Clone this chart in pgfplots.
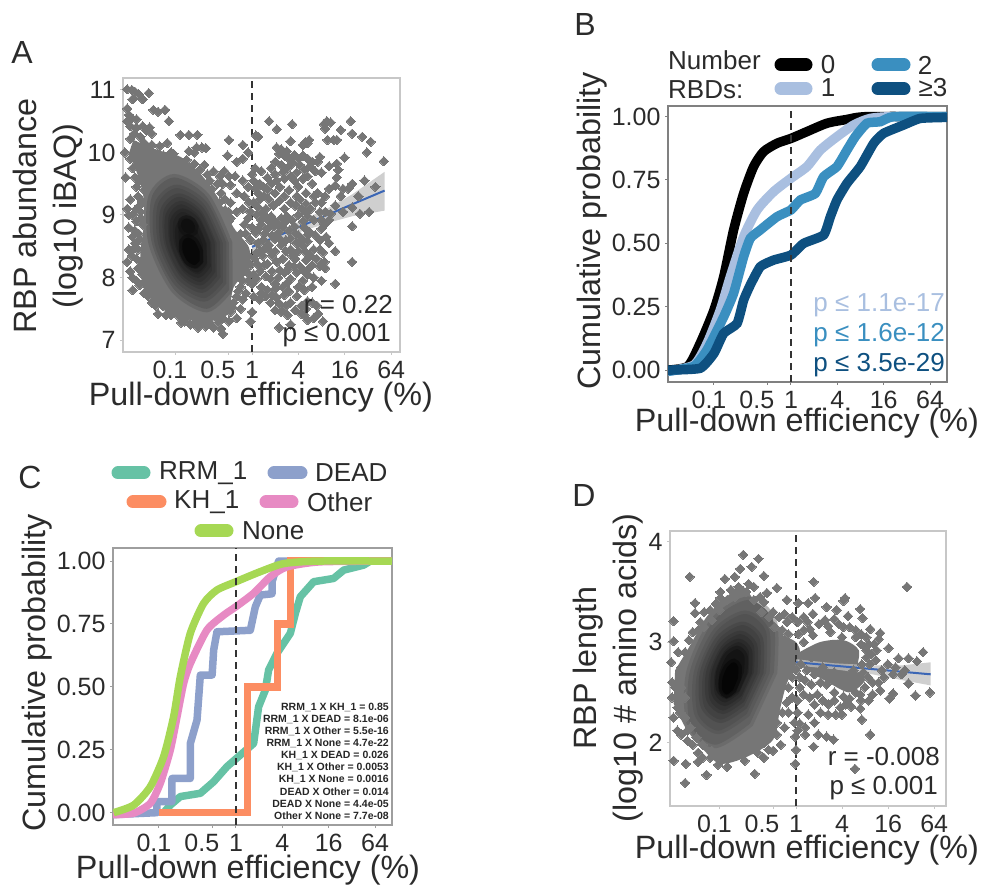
\documentclass[border=0pt]{standalone}
\usepackage{pgfplots}
\pgfplotsset{compat=1.18}
\usepackage{fontspec}
\setmainfont{Liberation Sans}
\newcommand\fs[1]{\fontsize{#1}{#1}\selectfont}
\definecolor{txt}{HTML}{2B2B2B}
\definecolor{ptg}{HTML}{767676}
\definecolor{bl}{HTML}{3B66B5}
\definecolor{bA}{HTML}{A9BFE0}
\definecolor{bB}{HTML}{3A8FC0}
\definecolor{bC}{HTML}{0E5080}
\definecolor{cR}{HTML}{66C2A5}
\definecolor{cD}{HTML}{8DA0CB}
\definecolor{cK}{HTML}{FC8D62}
\definecolor{cO}{HTML}{E78AC3}
\definecolor{cN}{HTML}{A6D854}
\pgfplotsset{
 panel/.style={scale only axis, anchor=south west, axis line style={draw=#1,line width=1.6pt},
  tick style={draw=#1,line width=1pt}, major tick length=3pt, tick align=outside,
  axis on top=false, xtick pos=bottom, ytick pos=left,
  tick label style={font=\fs{25},text=txt},
  label style={font=\fontsize{32.3}{40}\selectfont,text=txt},
  xtick={-1,-0.301,0,0.602,1.204,1.806}, xticklabels={\kern-10pt 0.1,\kern-22pt 0.5,1,4,16,64},
  xticklabel style={yshift=-3pt},yticklabel style={xshift=-1pt}},
 pts/.style={only marks,mark=square*,mark size=3.3pt,mark options={rotate=45,fill=ptg,draw=ptg,line width=0pt}},
 blob/.style={fill=#1,draw=#1,draw opacity=.5,line width=7pt,smooth,forget plot},
 mass/.style={fill=ptg,draw=none,smooth,forget plot},
 vdash/.style={black!80,line width=1.6pt,dash pattern=on 7pt off 5pt}
}
\begin{document}
\begin{tikzpicture}[x=1pt,y=1pt]
\path[use as bounding box] (0,0) rectangle (982,886);
% ---------- A
\begin{axis}[panel=black!22, at={(123pt,534pt)}, width=277pt, height=274pt,
 xmin=-1.675,xmax=1.92,ymin=6.81,ymax=11.19,
 ytick={7,8,9,10,11},yticklabels={7,8,9,10,11},
 xlabel={Pull-down efficiency (\%)},
 xlabel style={at={(axis description cs:.498,-.164)},anchor=center},
 ylabel={RBP abundance\\(log10 iBAQ)},
 ylabel style={align=center,at={(axis description cs:-.271,.496)},anchor=center}]
\addplot[mass] coordinates {(-1.54,10.2)(-1.23,10.04)(-.93,9.93)(-.67,9.66)(-.45,9.29)(-.24,8.8)(-.04,8.48)(-.04,8.16)(-.24,7.84)(-.32,7.41)(-.58,7.3)(-.93,7.36)(-1.19,7.52)(-1.41,7.84)(-1.45,8.37)(-1.41,8.8)(-1.41,9.29)(-1.49,9.66)(-1.6,9.98)} --cycle;
\addplot[pts] coordinates {
(-1.62,11.01)(-1.56,11.0)(-1.52,10.97)(-1.47,10.93)(-1.34,10.95)(-1.42,10.85)(-1.55,10.85)(-1.28,10.68)(-1.22,10.65)(-1.13,10.68)(-1.08,10.5)(-1.62,10.7)(-1.6,10.6)(-1.56,10.55)(-1.5,10.53)(-1.62,10.5)(-1.58,10.42)(-1.5,10.4)(-1.42,10.42)(-1.33,10.4)(-1.37,10.35)(-1.3,10.3)(-1.45,10.25)(-1.53,10.3)(-1.58,10.22)(-1.4,10.15)(-.93,10.28)(-.82,10.28)(-.71,10.28)(-.82,10.02)(-.75,10.0)(-.65,10.08)(-.6,10.07)(-.72,10.08)(-1.05,10.0)(-1.2,10.1)(-1.1,10.15)(-1.3,10.12)
(-.62,9.8)(-.5,9.7)(-.42,9.62)(-.55,9.55)(-.45,9.5)
(-1.65,10.0)(-1.64,9.6)(-1.58,9.25)(-1.62,9.1)(-1.6,9.0)(-1.5,9.1)(-1.55,9.0)(-1.45,9.05)(-1.4,9.4)(-1.48,9.3)(-1.43,9.22)(-1.6,8.8)(-1.52,8.75)(-1.6,8.45)(-1.53,8.47)(-1.62,8.25)(-1.58,8.1)(-1.55,8.0)(-1.46,8.6)(-1.5,8.3)(-1.48,8.15)(-1.42,8.05)(-1.5,7.95)(-1.55,7.8)(-1.4,7.75)(-1.35,7.7)(-1.3,7.6)(-1.25,7.55)(-1.22,7.42)(-1.12,7.4)(-1.05,7.4)(-.92,7.28)(-.88,7.3)(-.8,7.25)(-.7,7.2)(-.6,7.22)(-.5,7.2)(-.4,7.18)(-.38,7.1)(-.44,7.28)(-.3,7.3)(-.28,7.45)(-.2,7.35)(-.15,7.5)(-.24,7.6)(-.12,7.65)(-.08,7.75)(-.15,7.85)(-.05,7.95)(-.08,8.1)(-.02,8.2)
(-.3,10.2)(-.12,10.12)(-.05,10.0)(-.32,9.95)(-.2,9.85)(-.12,9.9)(-.3,9.62)(-.36,9.7)(-.22,9.62)(-.12,9.55)(-.05,9.45)(-.28,9.48)(-.38,9.5)(-.1,9.3)(-.2,9.35)(-.04,9.2)(-.28,9.2)(-.12,9.1)(-.2,9.05)(-.05,8.95)(-.1,8.85)(-.28,8.95)(-.15,8.7)(-.3,9.05)(-.35,9.25)(-.02,9.05)(-.08,8.7)(-.02,8.6)
(.22,10.5)(.32,10.37)(.52,10.45)(.93,10.45)(.97,10.5)(1.02,10.48)(.95,10.38)(1.28,10.5)(1.15,10.36)(1.3,10.3)(1.43,10.25)(1.54,10.17)(1.49,10.0)(1.71,9.86)
(.05,10.27)(.08,10.25)(.5,10.18)(.66,10.12)(.72,10.15)(.74,10.2)(.69,10.16)(.98,10.2)(1.06,10.2)(1.1,10.2)(.32,10.08)(.38,10.05)(.45,10.02)
(.35,9.98)(.42,9.95)(.48,9.9)(.55,9.96)(.6,9.9)(.66,9.95)(.72,9.9)(.78,9.85)(.88,9.93)(.85,9.85)(.3,9.85)(.38,9.8)(.46,9.75)(.52,9.82)(.62,9.8)(.68,9.72)(.75,9.78)(1.0,9.78)(1.1,9.82)(1.2,9.92)(1.12,9.72)(.9,9.68)(.82,9.7)(.58,9.68)(.4,9.68)
(.02,9.55)(.05,9.42)(.1,9.5)(.15,9.45)(.2,9.4)(.25,9.5)(.3,9.35)(.36,9.45)(.42,9.58)(.48,9.4)(.55,9.55)(.6,9.45)(.66,9.58)(.7,9.35)(.78,9.5)(.85,9.35)(1.0,9.42)(1.08,9.47)(1.18,9.42)(1.25,9.42)(1.46,9.55)(1.6,9.45)(.95,9.3)(.15,9.3)(.22,9.25)(.1,9.25)
(.02,9.2)(.08,9.12)(.18,9.1)(.28,9.15)(.35,9.22)(.42,9.1)(.5,9.2)(.56,9.15)(.62,9.25)(.7,9.18)(.76,9.1)(.82,9.2)(.88,9.05)(.95,9.05)(1.02,9.02)(1.08,9.15)(1.18,9.05)(1.3,9.12)(1.4,9.02)(1.52,9.05)(.2,8.95)(.25,8.98)(.3,8.9)(.38,8.95)(.45,8.98)(.52,8.92)(.6,9.0)(.66,8.9)(.72,8.98)(.8,8.92)(.9,8.92)(1.0,8.92)
(.0,8.8)(.05,8.72)(.12,8.85)(.2,8.78)(.28,8.82)(.34,8.72)(.4,8.8)(.48,8.75)(.55,8.82)(.6,8.68)(.68,8.8)(.75,8.72)(.82,8.68)(.9,8.78)(.96,8.65)(1.0,8.55)(1.3,8.82)(.08,8.55)(.15,8.6)(.22,8.52)(.3,8.62)(.38,8.52)(.44,8.6)(.5,8.45)(.58,8.55)(.66,8.5)(.72,8.58)(.8,8.45)(1.08,8.42)(1.3,8.25)(.1,8.42)
(.03,8.3)(.14,8.35)(.2,8.22)(.26,8.35)(.32,8.25)(.4,8.3)(.48,8.2)(.56,8.3)(.62,8.18)(.7,8.28)(.78,8.2)(.84,8.3)(.1,8.1)(.18,8.02)(.26,8.1)(.34,8.0)(.42,8.08)(.5,7.98)(.58,8.08)(.66,7.95)(.72,8.05)(.8,8.0)(.9,7.95)(1.08,7.9)(.0,7.9)(.12,7.85)(.3,7.82)(.4,7.85)
(.02,7.7)(.1,7.65)(.18,7.7)(.24,7.6)(.32,7.68)(.42,7.72)(.5,7.6)(.58,7.7)(.64,7.55)(.7,7.5)(.78,7.6)(.84,7.55)(.3,7.48)(.38,7.45)(.46,7.4)(.5,7.25)(.35,7.2)(.0,7.45)(-.02,7.3)(.72,7.32)(.68,7.4)(.8,7.35)
(-1.5,10.1)(-1.42,10.05)(-1.34,10.0)(-1.25,9.98)(-1.15,9.95)(-1.02,9.98)(-.95,9.85)(-.85,9.88)(-.75,9.82)(-.68,9.72)(-.58,9.65)(-.52,9.42)(-.4,9.35)(-.42,9.2)(-.35,9.08)(-.3,8.9)(-.22,8.65)(-.18,8.5)(-.12,8.4)
(-1.58,9.9)(-1.55,9.75)(-1.48,9.85)(-1.52,9.6)(-1.46,9.55)(-1.42,9.7)(-1.5,9.45)(-1.44,9.6)(-1.38,9.85)
(-1.46,9.15)(-1.44,8.95)(-1.5,8.9)(-1.42,8.85)(-1.47,8.7)(-1.55,8.65)(-1.52,8.55)(-1.48,8.45)(-1.56,8.35)(-1.45,8.25)(-1.44,8.1)(-1.38,7.95)(-1.46,7.88)(-1.35,7.85)(-1.3,7.75)(-1.24,7.65)(-1.16,7.55)(-1.08,7.5)(-1.0,7.45)(-.95,7.38)(-.85,7.35)(-.75,7.28)(-.65,7.28)(-.55,7.28)(-.45,7.35)(-.38,7.35)(-.25,7.52)(-.2,7.7)(-.18,7.78)(-.12,7.95)(-.15,8.05)(-.03,8.05)(-.1,8.25)(-.05,8.35)
(.06,9.0)(.14,9.02)(.12,8.92)(.22,8.9)(.34,8.85)(.42,8.88)(.5,8.62)(.56,8.7)(.64,8.6)(.72,8.68)(.88,8.6)(.94,8.85)(.08,8.78)(.16,8.7)(.26,8.68)(.36,8.62)(.44,8.42)(.52,8.35)(.6,8.42)(.7,8.4)(.76,8.35)(.88,8.45)(.92,8.4)(.24,8.42)(.16,8.46)(.06,8.4)(.08,8.2)(.16,8.2)(.3,8.42)(.36,8.12)(.46,8.12)(.54,8.18)(.66,8.12)(.74,8.15)(.88,8.18)(.95,8.15)(.94,8.25)(.02,8.05)(.24,7.98)(.06,7.98)(.3,7.9)(.46,7.92)(.6,7.85)(.68,7.8)(.78,7.85)(.48,7.78)(.2,7.8)(.12,7.75)(.26,7.72)(.36,7.58)(.44,7.55)(.56,7.48)(.64,7.42)(.72,7.62)(.86,7.42)(.92,7.3)
(.08,9.35)(.3,9.65)(.25,9.75)(.2,9.6)(.04,9.75)(.0,9.65)(.12,9.7)(.32,9.55)(.5,9.62)(.72,9.62)(.8,9.3)(.58,9.3)(.42,9.3)(.7,9.05)(.64,9.1)(.9,9.2)(1.15,9.3)(1.3,9.5)(1.38,9.3)(1.1,9.6)
};
\addplot[blob=black!64] coordinates {(-.3,8.55)(-.592,9.295)(-1.01,9.6)(-1.3,9.295)(-1.3,8.55)(-1.008,7.805)(-.59,7.5)(-.298,7.805)} --cycle;
\addplot[blob=black!70] coordinates {(-.38,8.55)(-.625,9.175)(-.976,9.43)(-1.221,9.175)(-1.22,8.55)(-.975,7.925)(-.624,7.67)(-.379,7.925)} --cycle;
\addplot[blob=black!76] coordinates {(-.46,8.55)(-.663,9.075)(-.948,9.29)(-1.145,9.075)(-1.14,8.55)(-.937,8.025)(-.652,7.81)(-.455,8.025)} --cycle;
\addplot[blob=black!81] coordinates {(-.53,8.55)(-.695,8.99)(-.924,9.17)(-1.079,8.99)(-1.07,8.55)(-.905,8.11)(-.676,7.93)(-.521,8.11)} --cycle;
\addplot[blob=black!86] coordinates {(-.59,8.55)(-.721,8.905)(-.9,9.05)(-1.019,8.905)(-1.01,8.55)(-.879,8.195)(-.7,8.05)(-.581,8.195)} --cycle;
\addplot[blob=black!90] coordinates {(-.64,8.52)(-.736,8.79)(-.866,8.9)(-.95,8.79)(-.94,8.52)(-.844,8.25)(-.714,8.14)(-.63,8.25)} --cycle;
\addplot[blob=black!94] coordinates {(-.74,8.82)(-.78,8.905)(-.854,8.94)(-.91,8.905)(-.92,8.82)(-.88,8.735)(-.806,8.7)(-.75,8.735)} --cycle;
\addplot[blob=black!97] coordinates {(-.68,8.42)(-.743,8.576)(-.834,8.64)(-.899,8.576)(-.9,8.42)(-.837,8.264)(-.746,8.2)(-.681,8.264)} --cycle;
\addplot[vdash] coordinates {(0,6.81)(0,11.19)};
\addplot[fill=black!25,fill opacity=.75,draw=none] coordinates {(0,8.58)(.5,8.83)(1,9.12)(1.3,9.33)(1.72,9.69)(1.72,9.07)(1.3,8.98)(1,8.88)(.5,8.68)(0,8.4)} --cycle;
\addplot[bl,line width=2pt] coordinates {(0,8.49)(1.72,9.39)};
\end{axis}
% ---------- B
\begin{axis}[panel=black!50, at={(668pt,504pt)}, width=279pt, height=276pt,
 xmin=-1.597,xmax=2.026,ymin=-.047,ymax=1.042,
 ytick={0,.25,.5,.75,1},yticklabels={0.00,0.25,0.50,0.75,1.00},
 xlabel={Pull-down efficiency (\%)},
 xlabel style={at={(axis description cs:.498,-.149)},anchor=center},
 ylabel={Cumulative probability},
 ylabel style={at={(axis description cs:-.272,.547)},anchor=center}]
\addplot[black,line width=9.5pt,smooth,tension=.4] coordinates {(-1.597,0)(-1.34,.015)(-1.18,.105)(-1.0,.237)(-.874,.368)(-.745,.553)(-.615,.697)(-.485,.803)(-.355,.862)(-.18,.895)(0,.914)(.208,.941)(.468,.974)(.727,.989)(.987,1)(2.026,1)};
\addplot[bA,line width=9.5pt,smooth,tension=.4] coordinates {(-1.597,-.005)(-1.26,.02)(-1.09,.105)(-.918,.237)(-.788,.368)(-.615,.526)(-.44,.632)(-.225,.704)(0,.757)(.208,.803)(.381,.868)(.597,.921)(.814,.967)(1.03,.993)(1.33,1)(2.026,1)};
\addplot[bB,line width=9.5pt,smooth,tension=.3] coordinates {(-1.597,-.005)(-1.26,.015)(-1.09,.08)(-.874,.21)(-.745,.303)(-.615,.447)(-.528,.52)(-.398,.553)(-.182,.605)(0,.632)(.121,.671)(.316,.697)(.424,.763)(.597,.803)(.727,.868)(.835,.921)(.987,.974)(1.16,.98)(1.333,1)(2.026,1)};
\addplot[bC,line width=9.5pt,smooth,tension=.3] coordinates {(-1.597,0)(-1.18,.007)(-1.0,.066)(-.874,.145)(-.7,.184)(-.615,.276)(-.528,.336)(-.398,.408)(-.225,.434)(0,.454)(.165,.5)(.424,.533)(.511,.605)(.597,.671)(.727,.737)(.9,.803)(1.074,.895)(1.203,.934)(1.463,.967)(1.68,.993)(2.026,.997)};
\addplot[vdash] coordinates {(0,-.047)(0,1.042)};
\end{axis}
% ---------- C
\begin{axis}[panel=black!38, at={(113pt,61pt)}, width=279pt, height=277pt,
 xmin=-1.597,xmax=2.026,ymin=-.049,ymax=1.052,
 ytick={0,.25,.5,.75,1},yticklabels={0.00,0.25,0.50,0.75,1.00},
 xlabel={Pull-down efficiency (\%)},
 xlabel style={at={(axis description cs:.484,-.162)},anchor=center},
 ylabel={Cumulative probability},
 ylabel style={at={(axis description cs:-.272,.549)},anchor=center}]
\addplot[cR,line width=7.5pt,line join=round] coordinates {(-.94,0)(-.853,.03)(-.723,.064)(-.463,.077)(-.29,.123)(-.117,.183)(.056,.229)(.229,.275)(.294,.421)(.381,.487)(.424,.567)(.532,.633)(.706,.713)(.771,.792)(.835,.858)(1.009,.918)(1.268,.931)(1.398,.964)(1.658,.984)(1.745,1)(2.026,1)};
\addplot[cD,line width=7.5pt,line join=round] coordinates {(-1.597,-.008)(-1.026,0)(-1.026,.044)(-.831,.044)(-.831,.136)(-.593,.136)(-.593,.275)(-.506,.368)(-.463,.547)(-.31,.547)(-.29,.646)(-.247,.719)(.186,.725)(.251,.818)(.316,.865)(.468,.87)(.468,.918)(.554,1)(2.026,1)};
\addplot[cK,line width=7.5pt,line join=miter] coordinates {(-1.0,0)(.152,0)(.152,.5)(.541,.5)(.541,.75)(.706,.75)(.706,1)(2.026,1)};
\addplot[cO,line width=7.5pt,smooth,tension=.4] coordinates {(-1.597,-.008)(-1.329,-.002)(-1.113,.037)(-.983,.117)(-.853,.249)(-.766,.381)(-.68,.514)(-.593,.593)(-.377,.726)(-.16,.785)(0,.819)(.229,.872)(.446,.938)(.662,.977)(1.095,.997)(2.026,1)};
\addplot[cN,line width=7.5pt,smooth,tension=.4] coordinates {(-1.589,0)(-1.329,.03)(-1.113,.103)(-.939,.223)(-.81,.381)(-.723,.54)(-.593,.713)(-.42,.832)(-.247,.885)(0,.918)(.316,.958)(.619,.99)(1.052,1)(2.026,1)};
\addplot[vdash] coordinates {(0,-.049)(0,1.052)};
\end{axis}
% ---------- D
\begin{axis}[panel=black!22, at={(670pt,80pt)}, width=276pt, height=275pt,
 xmin=-1.647,xmax=1.96,ymin=1.37,ymax=4.106,
 ytick={2,3,4},yticklabels={2,3,4},
 xlabel={Pull-down efficiency (\%)},
 xlabel style={at={(axis description cs:.496,-.16)},anchor=center},
 ylabel={RBP length\\(log10 \# amino acids)},
 ylabel style={align=center,at={(axis description cs:-.225,.502)},anchor=center}]
\addplot[mass] coordinates {(-1.58,2.72)(-1.39,2.96)(-1.17,3.25)(-.91,3.45)(-.69,3.55)(-.47,3.32)(-.21,3.09)(0,3.0)(.05,2.86)(-.12,2.59)(-.21,2.33)(-.3,2.03)(-.64,1.86)(-.99,1.79)(-1.21,1.93)(-1.43,2.13)(-1.6,2.39)} --cycle;
\addplot[mass] coordinates {(0,2.88)(.31,3.0)(.62,3.02)(.82,2.92)(.8,2.72)(.9,2.62)(.7,2.5)(.42,2.6)(.1,2.74)} --cycle;
\addplot[pts] coordinates {
(-.69,3.87)(-.49,3.83)(-.58,3.75)(-.73,3.73)(-1.39,3.65)(-.93,3.63)(-.8,3.65)(-.42,3.66)(.23,3.6)(1.45,3.55)(-.99,3.5)(-.99,3.44)(-1.32,3.39)(-1.32,3.29)(-1.6,3.21)(-1.6,3.01)(-1.63,2.8)(-1.54,2.9)(-.25,3.54)(-.38,3.49)(-.47,3.45)(-.12,3.42)(.03,3.39)(.16,3.39)(.25,3.44)(.64,3.44)(.62,3.41)(.4,3.35)(.53,3.32)(.68,3.26)(.84,3.33)(.87,3.24)(.97,3.13)(1.1,3.09)(1.08,3.03)(1.21,2.94)(1.34,2.84)(1.47,2.84)(1.66,2.9)(1.58,2.81)
(1.75,2.5)(1.56,2.47)(1.47,2.59)(1.22,2.44)(1.27,2.49)(1.1,2.52)(.86,2.23)(.97,2.08)(.84,2.34)(.49,2.03)(.4,2.06)(.23,1.96)(.77,1.74)(-.01,1.79)(0,1.93)(-.01,2.06)(.16,2.28)(.29,2.08)(.05,2.19)
(-.54,1.69)(-.67,1.82)(-1.02,1.78)(-1.17,1.68)(-1.45,1.6)(-1.44,1.79)(-1.6,1.82)(-1.28,1.81)(-.36,1.93)(-.25,2.08)
(-1.62,2.6)(-1.58,2.55)(-1.62,2.45)(-1.55,2.35)(-1.6,2.25)(-1.55,2.12)(-1.5,2.08)(-1.42,2.02)(-1.35,1.98)(-1.28,1.9)(-1.22,1.85)(-1.12,1.85)(-.9,1.76)(-.8,1.88)(-.5,1.9)(-.42,1.85)(-.3,1.92)(-.2,1.98)(-.15,2.15)(-.1,2.3)(-.05,2.45)(-.02,2.2)(.02,2.3)
(-1.25,3.2)(-1.2,3.3)(-1.12,3.32)(-1.05,3.38)(-.85,3.52)(-.75,3.55)(-.62,3.58)(-.55,3.55)(-.42,3.4)(-.3,3.3)(-.22,3.25)(-.12,3.2)(-.05,3.25)(.02,3.2)(-.15,3.28)(.1,3.25)(.15,3.2)(.22,3.28)
(.03,3.08)(.1,3.12)(.18,3.13)(.3,3.18)(.38,3.22)(.42,3.16)(.5,3.23)(.56,3.18)(.62,3.15)(.7,3.15)(.78,3.12)(.85,3.08)(.92,3.05)(.95,2.98)(1.02,2.98)(1.05,2.92)(.98,2.88)(.92,2.85)(.96,2.78)(1.04,2.82)(1.12,2.72)(1.2,2.78)(1.15,2.65)(1.27,2.68)(1.3,2.75)(1.38,2.68)(1.42,2.72)(1.08,2.6)
(.05,2.65)(.12,2.62)(.2,2.58)(.05,2.55)(.1,2.48)(.18,2.45)(.28,2.48)(.02,2.42)(.35,2.42)(.42,2.38)(.5,2.42)(.58,2.35)(.65,2.38)(.52,2.28)(.42,2.28)(.32,2.3)(.24,2.38)(.24,2.2)(.12,2.15)(.02,2.12)(.12,2.08)(.6,2.28)(.72,2.36)(.95,2.42)(1.0,2.48)(.85,2.42)(.78,2.5)
(.1,3.0)(.22,3.07)(.45,3.1)(.6,3.05)(.78,3.05)(.85,2.98)(.9,2.95)(.92,2.92)(.86,2.78)(.88,2.7)(.94,2.65)(1.0,2.6)(.9,2.55)(.84,2.48)(.7,2.44)(.62,2.46)(.5,2.5)(.4,2.58)(.32,2.6)(.24,2.68)(.14,2.72)(.06,2.78)(.2,2.85)(.35,2.75)(.5,2.7)(.6,2.6)(.68,2.62)(.75,2.72)
(-1.5,2.75)(-1.45,2.9)(-1.4,3.02)(-1.35,3.1)(-1.28,3.12)(-1.2,3.15)(-1.1,3.22)(-1.0,3.32)(-.9,3.42)(-.8,3.45)(-.65,3.5)(-.55,3.42)(-.45,3.3)(-.35,3.25)(-.28,3.15)(-.18,3.12)(-.1,3.08)(-1.5,2.55)(-1.45,2.45)(-1.52,2.3)(-1.45,2.25)(-1.38,2.15)(-1.42,2.12)(-1.3,2.05)(-1.22,1.98)(-1.1,1.92)(-1.02,1.88)(-.9,1.85)(-.75,1.9)(-.62,1.92)(-.55,1.98)(-.42,2.0)(-.35,2.1)(-.25,2.2)(-.18,2.3)(-.12,2.4)(-.1,2.55)(-.05,2.65)(0,2.72)
};
\addplot[blob=black!62] coordinates {(-.29,2.7)(-.297,3.211)(-.624,3.42)(-1.077,3.211)(-1.39,2.7)(-1.383,2.189)(-1.056,1.98)(-.603,2.189)} --cycle;
\addplot[blob=black!68] coordinates {(-.39,2.7)(-.396,3.112)(-.666,3.28)(-1.036,3.112)(-1.29,2.7)(-1.284,2.288)(-1.014,2.12)(-.644,2.288)} --cycle;
\addplot[blob=black!74] coordinates {(-.47,2.7)(-.477,3.034)(-.699,3.17)(-1.003,3.034)(-1.21,2.7)(-1.203,2.366)(-.981,2.23)(-.677,2.366)} --cycle;
\addplot[blob=black!80] coordinates {(-.55,2.7)(-.553,2.97)(-.726,3.08)(-.965,2.97)(-1.13,2.7)(-1.127,2.43)(-.954,2.32)(-.715,2.43)} --cycle;
\addplot[blob=black!86] coordinates {(-.62,2.7)(-.62,2.913)(-.75,3.0)(-.932,2.913)(-1.06,2.7)(-1.06,2.487)(-.93,2.4)(-.748,2.487)} --cycle;
\addplot[blob=black!92] coordinates {(-.68,2.7)(-.677,2.863)(-.771,2.93)(-.905,2.863)(-1.0,2.7)(-1.003,2.537)(-.909,2.47)(-.775,2.537)} --cycle;
\addplot[blob=black!98] coordinates {(-.76,2.64)(-.755,2.754)(-.812,2.8)(-.897,2.754)(-.96,2.64)(-.965,2.526)(-.908,2.48)(-.823,2.526)} --cycle;
\addplot[vdash] coordinates {(0,1.37)(0,4.106)};
\addplot[fill=black!25,fill opacity=.75,draw=none] coordinates {(0,2.83)(.5,2.79)(1,2.77)(1.4,2.77)(1.76,2.8)(1.76,2.57)(1.4,2.62)(1,2.68)(.5,2.73)(0,2.77)} --cycle;
\addplot[bl,line width=2pt] coordinates {(0,2.8)(1.76,2.68)};
\end{axis}
% ---------- text in canvas pixels (y measured from bottom)
\tikzset{lab/.style={text=txt,inner sep=0pt,anchor=center}}
\node[lab,font=\fs{32}] at (22,833) {A};
\node[lab,font=\fs{32}] at (585,861) {B};
\node[lab,font=\fs{32}] at (30,409) {C};
\node[lab,font=\fs{32}] at (584,391) {D};
\node[text=txt,inner sep=0pt,anchor=east,font=\fs{26}] at (393,581) {r = 0.22};
\node[text=txt,inner sep=0pt,anchor=east,font=\fs{26}] at (391,551) {p ≤ 0.001};
\node[text=txt,inner sep=0pt,anchor=east,font=\fs{26}] at (940,129) {r = -0.008};
\node[text=txt,inner sep=0pt,anchor=east,font=\fs{26}] at (938,98) {p ≤ 0.001};
% B legend
\node[lab,anchor=west,font=\fs{26}] at (668,826) {Number};
\node[lab,anchor=west,font=\fs{26}] at (668,796) {RBDs:};
\draw[black,line width=13pt,line cap=round] (781,821)--(806,821);
\draw[bA,line width=13pt,line cap=round] (781,797)--(806,797);
\draw[bB,line width=13pt,line cap=round] (878,821)--(904,821);
\draw[bC,line width=13pt,line cap=round] (878,797)--(904,797);
\node[lab,font=\fs{26}] at (828,821) {0};
\node[lab,font=\fs{26}] at (828,798) {1};
\node[lab,font=\fs{26}] at (925,821) {2};
\node[lab,font=\fs{26}] at (933,798) {≥3};
\node[inner sep=0pt,anchor=east,font=\fs{26},text=bA] at (945,581) {p ≤ 1.1e-17};
\node[inner sep=0pt,anchor=east,font=\fs{26},text=bB] at (945,551) {p ≤ 1.6e-12};
\node[inner sep=0pt,anchor=east,font=\fs{26},text=bC] at (945,521) {p ≤ 3.5e-29};
% C legend
\draw[cR,line width=13pt,line cap=round] (118,413)--(144,413);
\node[lab,anchor=west,font=\fs{26}] at (159,413) {RRM\_1};
\draw[cD,line width=13pt,line cap=round] (274,413)--(301,413);
\node[lab,anchor=west,font=\fs{26}] at (315,413) {DEAD};
\draw[cK,line width=13pt,line cap=round] (133,384)--(160,384);
\node[lab,anchor=west,font=\fs{26}] at (174,384) {KH\_1};
\draw[cO,line width=13pt,line cap=round] (266,384)--(292,384);
\node[lab,anchor=west,font=\fs{26}] at (307,384) {Other};
\draw[cN,line width=13pt,line cap=round] (201,355)--(227,355);
\node[lab,anchor=west,font=\fs{26}] at (242,355) {None};
% C p-value list
\tikzset{sm/.style={inner sep=0pt,anchor=east,font=\bfseries\fs{10.5},text=black!85}}
\node[sm] at (389,178.3) {RRM\_1 X KH\_1 = 0.85};
\node[sm] at (389,166.3) {RRM\_1 X DEAD = 8.1e-06};
\node[sm] at (389,154.3) {RRM\_1 X Other = 5.5e-16};
\node[sm] at (389,142.3) {RRM\_1 X None = 4.7e-22};
\node[sm] at (389,130.3) {KH\_1 X DEAD = 0.026};
\node[sm] at (389,118.3) {KH\_1 X Other = 0.0053};
\node[sm] at (389,106.3) {KH\_1 X None = 0.0016};
\node[sm] at (389,94.3) {DEAD X Other = 0.014};
\node[sm] at (389,82.3) {DEAD X None = 4.4e-05};
\node[sm] at (389,70.3) {Other X None = 7.7e-08};
\end{tikzpicture}
\end{document}
